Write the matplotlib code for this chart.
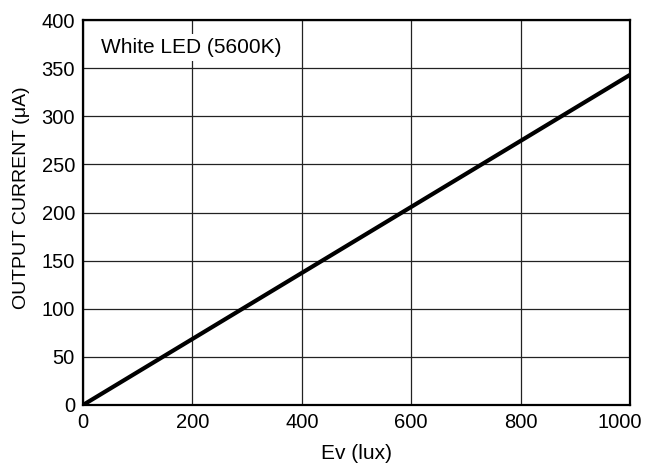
import matplotlib
matplotlib.use("Agg")
import matplotlib.pyplot as plt
import matplotlib.transforms as mtransforms

plt.rcParams['font.family'] = ['Liberation Sans', 'DejaVu Sans']

ev_lux = [0, 1000]
output_current = [0, 343]
x_ticks = [0, 200, 400, 600, 800, 1000]
y_ticks = [0, 50, 100, 150, 200, 250, 300, 350, 400]

fig = plt.figure(figsize=(6.45, 4.68), dpi=100)
ax = fig.add_axes([83/645, 1 - 405/468, (630-83)/645, (405-20)/468])
ax.plot(ev_lux, output_current, color='black', linewidth=3.0, solid_capstyle='butt', zorder=3)
ax.set_xlim(0, 1000)
ax.set_ylim(0, 400)
ax.set_xticks(x_ticks)
ax.set_yticks(y_ticks)
ax.grid(True, color='#222222', linewidth=0.9)
ax.set_axisbelow(True)
for s in ax.spines.values():
    s.set_linewidth(1.6)
ax.tick_params(axis='x', length=0, labelsize=14.5, pad=5.5)
ax.tick_params(axis='y', length=0, labelsize=14.5, pad=5.8)
fig.canvas.draw()
last = ax.get_xticklabels()[-1]
last.set_transform(last.get_transform() + mtransforms.ScaledTranslation(-10/100, 0, fig.dpi_scale_trans))
ax.set_xlabel('Ev (lux)', fontsize=15, labelpad=9)
ax.set_ylabel('OUTPUT CURRENT (μA)', fontsize=14)
ax.yaxis.set_label_coords(-0.097, 0.538)
ax.text(33, 365.7, 'White LED (5600K)', fontsize=15, va='baseline', ha='left',
        transform=ax.transData,
        bbox=dict(facecolor='white', edgecolor='none', pad=3), zorder=4)
fig.savefig('out.png', dpi=100)
